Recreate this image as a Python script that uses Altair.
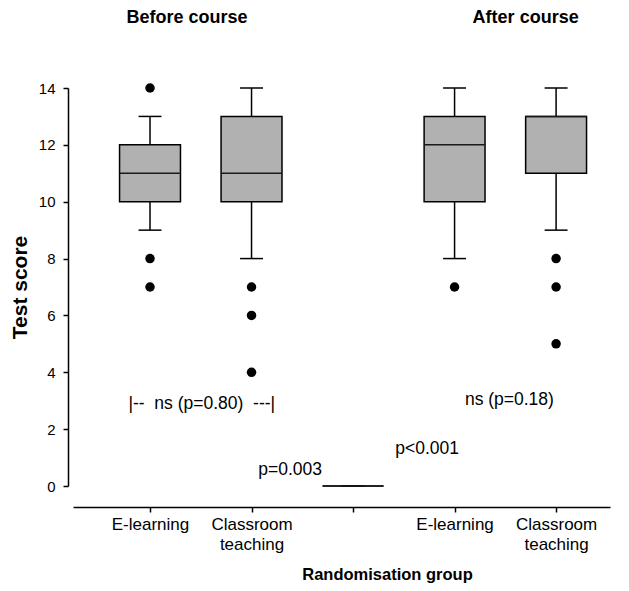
import altair as alt
import pandas as pd

# ---- data ----
group_pos = [1, 2, 3, 4, 5]
group_name = ["Before E-learning", "Before Classroom", "spacer", "After E-learning", "After Classroom"]
lower_whisker = [9, 8, 0, 8, 9]
q1 = [10, 10, 0, 10, 11]
median = [11, 11, 0, 12, 13]
q3 = [12, 13, 0, 13, 13]
upper_whisker = [13, 14, 0, 14, 14]

outlier_pos = [1, 1, 1, 2, 2, 2, 4, 5, 5, 5]
outlier_val = [14, 8, 7, 7, 6, 4, 7, 8, 7, 5]

tick_labels = ["E-learning", "Classroom\nteaching", "", "E-learning", "Classroom\nteaching"]

ann_text = ["|--\u00a0\u00a0ns (p=0.80)\u00a0\u00a0---|", "ns (p=0.18)", "p=0.003", "p<0.001"]
ann_x = [1.51, 4.54, 2.38, 3.73]
ann_y = [2.9, 3.02, 0.56, 1.30]

head_text = ["Before course", "After course"]
head_x = [1.365, 4.70]
head_y = [16.45, 16.45]

FONT = "Liberation Sans"

boxes = pd.DataFrame({"pos": group_pos, "name": group_name, "lw": lower_whisker,
                      "q1": q1, "med": median, "q3": q3, "uw": upper_whisker})
outl = pd.DataFrame({"pos": outlier_pos, "val": outlier_val})
ann = pd.DataFrame({"text": ann_text, "x": ann_x, "y": ann_y})
heads = pd.DataFrame({"text": head_text, "x": head_x, "y": head_y})

js_labels = "[" + ",".join("'" + t.replace("\n", "\\n") + "'" for t in tick_labels) + "]"
label_expr = "split(" + js_labels + "[datum.value - 1], '\\n')"

xscale = alt.Scale(domain=[0.2414, 5.531], nice=False, zero=False)
yscale = alt.Scale(domain=[0, 14], nice=False, zero=True)

xaxis = alt.Axis(values=group_pos, labelExpr=label_expr, title="Randomisation group",
                 offset=21, tickSize=5, labelPadding=4, labelLineHeight=20,
                 titlePadding=14, titleX=314, titleAlign="center")
yaxis = alt.Axis(values=[0, 2, 4, 6, 8, 10, 12, 14], title="Test score", offset=5,
                 tickSize=5, labelPadding=8, titlePadding=8)

HALF = 0.3
CAP = 0.113

base = alt.Chart(boxes).transform_calculate(
    lo=f"datum.pos - {HALF}", hi=f"datum.pos + {HALF}",
    clo=f"datum.pos - {CAP}", chi=f"datum.pos + {CAP}")

whisk_lo = base.mark_rule(color="black", strokeWidth=1.5).encode(
    x=alt.X("pos:Q", scale=xscale, axis=xaxis), y=alt.Y("lw:Q", scale=yscale, axis=yaxis), y2="q1:Q")
whisk_hi = base.mark_rule(color="black", strokeWidth=1.5).encode(
    x="pos:Q", y="q3:Q", y2="uw:Q")
cap_lo = base.mark_rule(color="black", strokeWidth=1.5).encode(
    x="clo:Q", x2="chi:Q", y="lw:Q")
cap_hi = base.mark_rule(color="black", strokeWidth=1.5).encode(
    x="clo:Q", x2="chi:Q", y="uw:Q")
box = base.mark_bar(fill="#b1b1b1", stroke="black", strokeWidth=1.5).encode(
    x="lo:Q", x2="hi:Q", y="q1:Q", y2="q3:Q")
med = base.mark_rule(color="#1a1a1a", strokeWidth=1.5).encode(
    x="lo:Q", x2="hi:Q", y="med:Q")

pts = alt.Chart(outl).mark_circle(size=90, color="black", opacity=1).encode(
    x="pos:Q", y="val:Q")

annot = alt.Chart(ann).mark_text(font=FONT, fontSize=17.5, color="black").encode(
    x="x:Q", y="y:Q", text="text:N")

header = alt.Chart(heads).mark_text(font=FONT, fontSize=18, fontWeight="bold", color="black").encode(
    x="x:Q", y="y:Q", text="text:N")

chart = alt.layer(whisk_lo, whisk_hi, cap_lo, cap_hi, box, med, pts, annot, header).properties(
    width=537, height=398,
    autosize=alt.AutoSizeParams(type="none"),
    padding={"left": 65, "top": 80, "right": 10, "bottom": 100},
).configure_view(stroke=None).configure_axis(
    grid=False, domainColor="black", tickColor="black", labelColor="black",
    titleColor="black", domainWidth=1.5, tickWidth=1.5, labelFont=FONT, titleFont=FONT,
).configure_axisX(labelFontSize=17, titleFontSize=16.5, titleFontWeight="bold"
).configure_axisY(labelFontSize=15, titleFontSize=21, titleFontWeight="bold")

chart.save("out.html", embed_options={"renderer": "svg", "actions": False})
